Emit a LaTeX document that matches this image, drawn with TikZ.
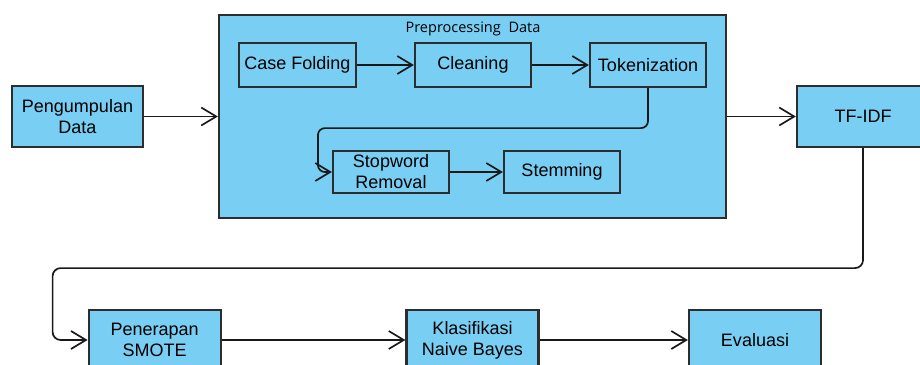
\documentclass[tikz,border=0pt]{standalone}
\usepackage{fontspec}
\setmainfont{Liberation Sans}
\newfontfamily\titlefont{Open Sans}
\usetikzlibrary{arrows.meta}
\definecolor{boxblue}{RGB}{121,206,243}
\definecolor{edgegray}{RGB}{45,45,45}
\tikzset{
  blk/.style={draw=edgegray, line width=2.2pt, fill=boxblue, inner sep=0pt, align=center,
    font=\fontsize{18}{21}\selectfont},
  conn/.style={draw=black!90, line width=1.7pt,
    -{Straight Barb[length=15pt,width=18pt,line width=1.7pt]}},
}
\begin{document}
\begin{tikzpicture}[x=1pt,y=-1pt]
\useasboundingbox (0,0) rectangle (920,364);
\clip (0,0) rectangle (920,364);
% preprocessing container
\node[blk, minimum width=507pt, minimum height=203pt] (pre) at (472.5,116.5) {};
\node[font=\titlefont\fontsize{14.5}{17}\selectfont, inner sep=0pt] (title) at (473,29) {Preprocessing\hspace{4pt} Data};
% nodes
\node[blk, minimum width=131pt, minimum height=61pt] (peng) at (77.5,116.5) {Pengumpulan\\Data};
\node[blk, minimum width=117pt, minimum height=44pt] (case) at (297.5,65) {Case Folding};
\node[blk, minimum width=116pt, minimum height=44pt] (clean) at (473,65) {Cleaning};
\node[blk, minimum width=116pt, minimum height=44pt] (tok) at (648,65) {Tokenization};
\node[blk, minimum width=116pt, minimum height=42pt] (stop) at (391,172) {Stopword\\Removal};
\node[blk, minimum width=116pt, minimum height=42pt] (stem) at (562,172) {Stemming};
\node[blk, minimum width=132pt, minimum height=61pt] (tfidf) at (863,116.5) {TF-IDF};
\node[blk, minimum width=132pt, minimum height=60pt] (smote) at (154.7,340) {Penerapan\\SMOTE};
\node[blk, minimum width=132pt, minimum height=60pt] (nb) at (472.5,340) {Klasifikasi\\Naive Bayes};
\node[blk, minimum width=132pt, minimum height=60pt] (eval) at (755,340) {Evaluasi};
% connectors
\draw[conn] (peng.east) -- (pre.west);
\draw[conn] (case.east) -- (clean.west);
\draw[conn] (clean.east) -- (tok.west);
\draw[conn, rounded corners=7pt] (tok.south) -- ++(0,40) -| ([xshift=-14pt]stop.west) -- (stop.west);
\draw[conn] (stop.east) -- (stem.west);
\draw[conn] (pre.east) -- (tfidf.west);
\draw[conn, rounded corners=8pt] (tfidf.south) -- ++(0,120) -| ([xshift=-35pt]smote.west) -- (smote.west);
\draw[conn] (smote.east) -- (nb.west);
\draw[conn] (nb.east) -- (eval.west);
\end{tikzpicture}
\end{document}
